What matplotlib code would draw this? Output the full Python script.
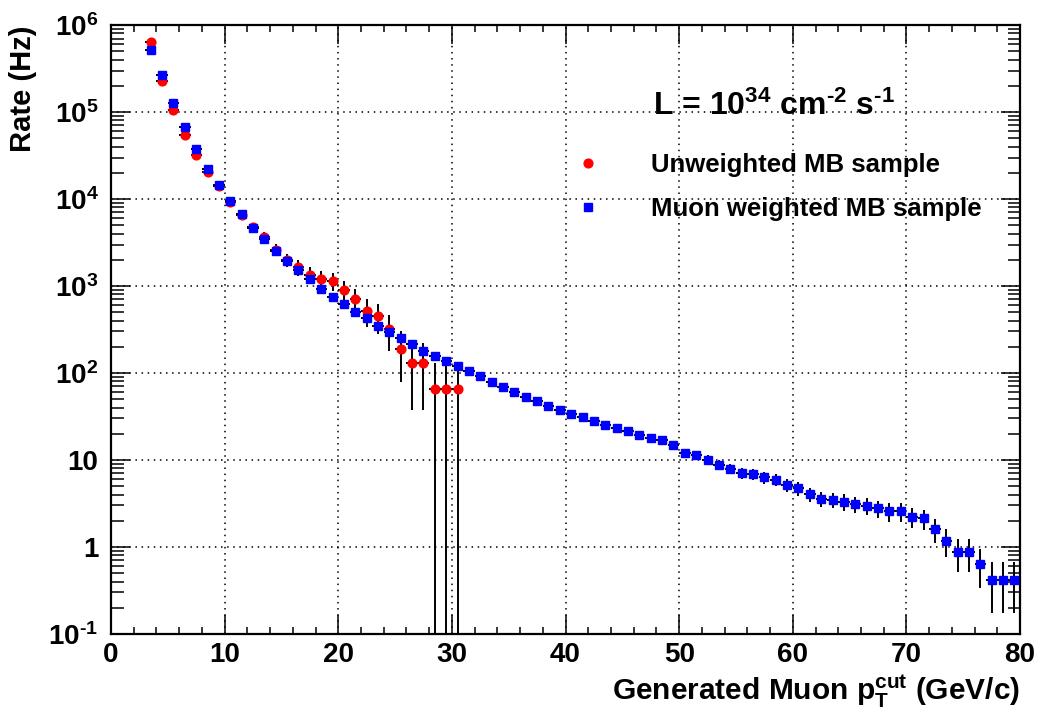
import numpy as np
import matplotlib
matplotlib.use('Agg')
import matplotlib.pyplot as plt; plt.ioff()
from matplotlib.lines import Line2D
from matplotlib.ticker import FixedLocator, FixedFormatter, LogLocator, MultipleLocator, NullFormatter

# bin centres of the pT cut (GeV/c)
pt_unweighted = np.arange(3.5, 31.0, 1.0)
pt_weighted = np.arange(3.5, 80.0, 1.0)

# rates (Hz)
rate_unweighted = [
    6.3e5, 2.27e5, 1.05e5, 5.5e4, 3.2e4, 2.06e4, 1.4e4, 9.2e3, 6.6e3, 4.8e3,
    3.7e3, 2.6e3, 2.0e3, 1.64e3, 1.34e3, 1.2e3, 1.14e3, 890, 703, 520,
    449, 324, 190, 129, 129, 65, 65, 65]

rate_weighted = [
    5.2e5, 2.66e5, 1.26e5, 6.7e4, 3.72e4, 2.2e4, 1.44e4, 9.5e3, 6.7e3, 4.7e3,
    3.44e3, 2.5e3, 1.95e3, 1.52e3, 1.2e3, 925, 748, 621, 507, 432,
    347, 299, 250, 214, 180, 156, 136, 120, 106, 92.5,
    79.5, 69, 60, 53, 47.6, 41.4, 37.6, 33.8, 30.9, 28.1,
    25.5, 23.3, 21.4, 19.6, 18.1, 16.8, 15.0, 11.9, 11.4, 10.1,
    8.77, 7.95, 7.1, 6.85, 6.32, 5.94, 5.16, 4.72, 4.03, 3.6,
    3.5, 3.32, 3.1, 2.98, 2.78, 2.57, 2.57, 2.23, 2.14, 1.6,
    1.18, 0.877, 0.877, 0.643, 0.42, 0.42, 0.42]

# rate carried by one event in each sample (Poisson errors)
evt_wt_unweighted = 65.0
evt_wt_weighted = 0.145

legend_labels = ['Unweighted MB sample', 'Muon weighted MB sample']

y_tick_vals = [1e-1, 1, 10, 1e2, 1e3, 1e4, 1e5, 1e6]
y_tick_labels = [r'$10^{\text{-}1}$', '1', '10', r'$10^{2}$', r'$10^{3}$',
                 r'$10^{4}$', r'$10^{5}$', r'$10^{6}$']
x_tick_vals = [0, 10, 20, 30, 40, 50, 60, 70, 80]


def main():

    plt.rcParams['font.family'] = ['Liberation Sans', 'DejaVu Sans']
    plt.rcParams['font.weight'] = 'bold'
    plt.rcParams['mathtext.fontset'] = 'custom'
    plt.rcParams['mathtext.rm'] = 'Liberation Sans:bold'
    plt.rcParams['mathtext.it'] = 'Liberation Sans:bold'
    plt.rcParams['mathtext.bf'] = 'Liberation Sans:bold'
    plt.rcParams['mathtext.default'] = 'rm'

    fig = plt.figure(figsize=(10.37, 7.15), dpi=100)
    ax = fig.add_axes([0.107, 0.1133, 0.8767, 0.8517])

    rate_unw = np.array(rate_unweighted)
    rate_wtd = np.array(rate_weighted)

    err_unw = np.sqrt(rate_unw * evt_wt_unweighted)
    err_wtd = np.sqrt(rate_wtd * evt_wt_weighted)
    #==========================================================================

    ax.set_yscale('log', nonpositive='clip')

    ax.errorbar(
        pt_unweighted,
        rate_unw,
        xerr=0.5,
        yerr=err_unw,
        fmt='o',
        ms=6.3,
        mfc='red',
        mec='red',
        ecolor='black',
        elinewidth=1.4,
        capsize=0,
        zorder=3)

    ax.errorbar(
        pt_weighted,
        rate_wtd,
        xerr=0.5,
        yerr=err_wtd,
        fmt='s',
        ms=6.3,
        mfc='blue',
        mec='blue',
        ecolor='black',
        elinewidth=1.4,
        capsize=0,
        zorder=4)

    ax.set_xlim(0, 80)
    ax.set_ylim(1e-1, 1e6)

    ax.xaxis.set_major_locator(FixedLocator(x_tick_vals))
    ax.xaxis.set_minor_locator(MultipleLocator(2))
    ax.yaxis.set_major_locator(FixedLocator(y_tick_vals))
    ax.yaxis.set_major_formatter(FixedFormatter(y_tick_labels))
    ax.yaxis.set_minor_locator(LogLocator(base=10, subs=np.arange(2, 10)))
    ax.yaxis.set_minor_formatter(NullFormatter())

    ax.tick_params(
        which='both', direction='in', top=True, right=True,
        width=1.1, labelsize=20, colors='black')
    ax.tick_params(axis='x', which='major', length=13.5, pad=6)
    ax.tick_params(axis='x', which='minor', length=5.2)
    ax.tick_params(axis='y', which='major', length=13.5, pad=9)
    ax.tick_params(axis='y', which='minor', length=9)

    for spine in ax.spines.values():
        spine.set_linewidth(1.6)

    ax.grid(True, which='major', color='black', lw=1.1,
            linestyle=(0, (1, 3)))
    ax.set_axisbelow(True)

    ax.set_xlabel(r'Generated Muon $p_{T}^{cut}$ (GeV/c)', fontsize=21.5,
                  fontweight='bold', loc='right', labelpad=3)
    ax.set_ylabel('Rate (Hz)', fontsize=21, fontweight='bold', loc='top',
                  labelpad=8)

    ax.text(0.596, 0.852,
            r'L = $10^{34}$ cm$^{\text{-}2}$ s$^{\text{-}1}$',
            transform=ax.transAxes, fontsize=23, fontweight='bold',
            ha='left', va='baseline')

    handles = [
        Line2D([], [], ls='none', marker='o', ms=6.3, mfc='red', mec='red'),
        Line2D([], [], ls='none', marker='s', ms=6.3, mfc='blue', mec='blue')]

    ax.legend(handles, legend_labels, loc='upper left',
              bbox_to_anchor=(0.485, 0.806), frameon=False, fontsize=18.5,
              handlelength=2.0, handletextpad=1.45, labelspacing=0.75,
              borderaxespad=0.0)

    fig.savefig('out.png', dpi=100)
    plt.close(fig)
    return


if __name__ == '__main__':
    main()
